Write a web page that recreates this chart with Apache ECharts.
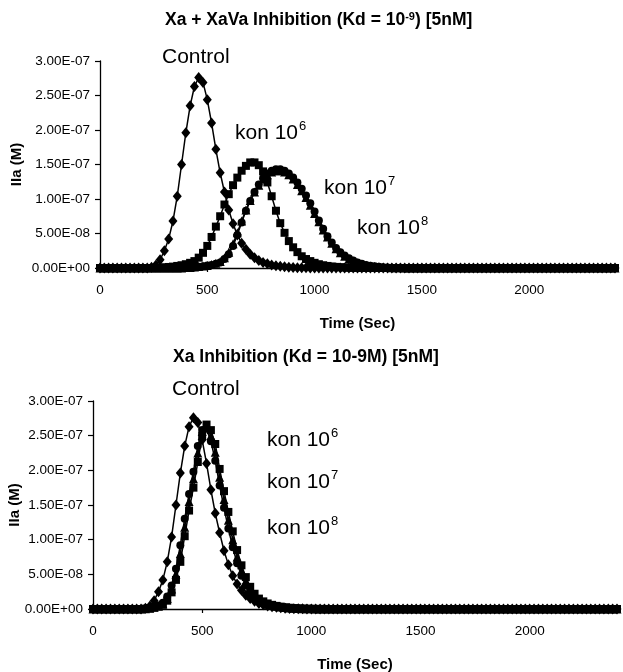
<!DOCTYPE html>
<html>
<head>
<meta charset="utf-8">
<script src="https://cdn.jsdelivr.net/npm/echarts@6/dist/echarts.min.js"></script>
<style>
html,body{margin:0;padding:0;background:#fff;}
#chart{width:623px;height:672px;}
</style>
</head>
<body>
<div id="chart"></div>
<script>
// Sampling times (s)
const times = [
0,20,40,60,80,100,120,140,160,180,
200,220,240,260,280,300,320,340,360,380,
400,420,440,460,480,500,520,540,560,580,
600,620,640,660,680,700,720,740,760,780,
800,820,840,860,880,900,920,940,960,980,
1000,1020,1040,1060,1080,1100,1120,1140,1160,1180,
1200,1220,1240,1260,1280,1300,1320,1340,1360,1380,
1400,1420,1440,1460,1480,1500,1520,1540,1560,1580,
1600,1620,1640,1660,1680,1700,1720,1740,1760,1780,
1800,1820,1840,1860,1880,1900,1920,1940,1960,1980,
2000,2020,2040,2060,2080,2100,2120,2140,2160,2180,
2200,2220,2240,2260,2280,2300,2320,2340,2360,2380,
2400];

// IIa (units of 1e-7 M)
const control = [
0,0,0,0,0,0,0,0,0,0,
0,0,0.01,0.04,0.12,0.25,0.42,0.68,1.04,1.50,
1.96,2.35,2.63,2.76,2.69,2.44,2.10,1.72,1.38,1.10,
0.84,0.64,0.48,0.36,0.27,0.20,0.15,0.11,0.08,0.06,
0.045,0.033,0.024,0.017,0.012,0.008,0.005,0.003,0.002,0.001,
0,0,0,0,0,0,0,0,0,0,
0,0,0,0,0,0,0,0,0,0,
0,0,0,0,0,0,0,0,0,0,
0,0,0,0,0,0,0,0,0,0,
0,0,0,0,0,0,0,0,0,0,
0,0,0,0,0,0,0,0,0,0,
0,0,0,0,0,0,0,0,0,0,
0];

// Top chart: Xa + XaVa inhibition
const topKon6 = [
0,0,0,0,0,0,0,0,0,0,
0,0,0,0,0.005,0.01,0.015,0.02,0.03,0.04,
0.055,0.075,0.10,0.15,0.22,0.32,0.45,0.60,0.75,0.92,
1.07,1.20,1.31,1.41,1.48,1.53,1.53,1.49,1.40,1.24,
1.04,0.83,0.65,0.51,0.39,0.30,0.23,0.17,0.13,0.10,
0.075,0.055,0.04,0.03,0.022,0.016,0.011,0.008,0.005,0.003,
0.002,0.001,0,0,0,0,0,0,0,0,
0,0,0,0,0,0,0,0,0,0,
0,0,0,0,0,0,0,0,0,0,
0,0,0,0,0,0,0,0,0,0,
0,0,0,0,0,0,0,0,0,0,
0,0,0,0,0,0,0,0,0,0,
0];
const topKon7 = [
0,0,0,0,0,0,0,0,0,0,
0,0,0,0,0,0,0,0,0,0,
0.006,0.009,0.014,0.02,0.028,0.038,0.05,0.068,0.095,0.15,
0.23,0.35,0.51,0.68,0.84,0.98,1.10,1.20,1.29,1.35,
1.39,1.41,1.41,1.39,1.35,1.29,1.21,1.12,1.02,0.91,
0.79,0.67,0.55,0.45,0.36,0.28,0.22,0.17,0.13,0.10,
0.075,0.055,0.04,0.03,0.022,0.016,0.011,0.007,0.004,0.003,
0.002,0.001,0,0,0,0,0,0,0,0,
0,0,0,0,0,0,0,0,0,0,
0,0,0,0,0,0,0,0,0,0,
0,0,0,0,0,0,0,0,0,0,
0,0,0,0,0,0,0,0,0,0,
0];
const topKon8 = [
0,0,0,0,0,0,0,0,0,0,
0,0,0,0,0,0,0,0,0,0,
0.005,0.008,0.012,0.018,0.025,0.035,0.045,0.06,0.08,0.13,
0.20,0.32,0.48,0.66,0.83,0.97,1.10,1.21,1.30,1.37,
1.41,1.43,1.43,1.41,1.37,1.31,1.24,1.15,1.05,0.94,
0.82,0.69,0.57,0.46,0.37,0.29,0.23,0.18,0.14,0.11,
0.08,0.06,0.045,0.033,0.024,0.017,0.012,0.008,0.005,0.003,
0.002,0.001,0,0,0,0,0,0,0,0,
0,0,0,0,0,0,0,0,0,0,
0,0,0,0,0,0,0,0,0,0,
0,0,0,0,0,0,0,0,0,0,
0,0,0,0,0,0,0,0,0,0,
0];

// Bottom chart: Xa inhibition
const botKon6 = [
0,0,0,0,0,0,0,0,0,0,
0,0,0.005,0.01,0.02,0.035,0.06,0.12,0.24,0.42,
0.68,1.05,1.42,1.75,2.12,2.50,2.66,2.58,2.38,2.02,
1.70,1.40,1.12,0.85,0.63,0.46,0.32,0.22,0.15,0.11,
0.08,0.06,0.045,0.034,0.025,0.018,0.013,0.009,0.006,0.004,
0.003,0.002,0.001,0.001,0,0,0,0,0,0,
0,0,0,0,0,0,0,0,0,0,
0,0,0,0,0,0,0,0,0,0,
0,0,0,0,0,0,0,0,0,0,
0,0,0,0,0,0,0,0,0,0,
0,0,0,0,0,0,0,0,0,0,
0,0,0,0,0,0,0,0,0,0,
0];
const botKon7 = [
0,0,0,0,0,0,0,0,0,0,
0,0,0.005,0.012,0.024,0.042,0.075,0.15,0.29,0.50,
0.80,1.18,1.55,1.88,2.25,2.56,2.63,2.50,2.26,1.90,
1.58,1.28,1.00,0.75,0.55,0.40,0.28,0.19,0.13,0.095,
0.07,0.052,0.039,0.029,0.021,0.015,0.011,0.008,0.005,0.003,
0.002,0.001,0.001,0,0,0,0,0,0,0,
0,0,0,0,0,0,0,0,0,0,
0,0,0,0,0,0,0,0,0,0,
0,0,0,0,0,0,0,0,0,0,
0,0,0,0,0,0,0,0,0,0,
0,0,0,0,0,0,0,0,0,0,
0,0,0,0,0,0,0,0,0,0,
0];
const botKon8 = [
0,0,0,0,0,0,0,0,0,0,
0,0,0.006,0.014,0.028,0.05,0.09,0.18,0.34,0.58,
0.92,1.30,1.66,1.98,2.35,2.58,2.60,2.42,2.14,1.78,
1.46,1.16,0.89,0.66,0.48,0.34,0.24,0.16,0.11,0.08,
0.06,0.045,0.033,0.024,0.018,0.013,0.009,0.006,0.004,0.003,
0.002,0.001,0.001,0,0,0,0,0,0,0,
0,0,0,0,0,0,0,0,0,0,
0,0,0,0,0,0,0,0,0,0,
0,0,0,0,0,0,0,0,0,0,
0,0,0,0,0,0,0,0,0,0,
0,0,0,0,0,0,0,0,0,0,
0,0,0,0,0,0,0,0,0,0,
0];

const xTicks = [0, 500, 1000, 1500, 2000];

const FONT = "'Liberation Sans', Arial, sans-serif";

function sci(v) {
  if (Math.abs(v) < 1e-20) return '0.00E+00';
  let e = Math.floor(Math.log10(Math.abs(v)) + 1e-9);
  let m = v / Math.pow(10, e);
  if (Math.abs(m) >= 9.995) { m /= 10; e++; }
  return m.toFixed(2) + 'E' + (e < 0 ? '-' : '+') + String(Math.abs(e)).padStart(2, '0');
}

function pairs(vals) { return times.map((t, i) => [t, vals[i]]); }

function xAxisCfg(gi) {
  return {
    gridIndex: gi, type: 'value', min: 0, max: 2400, interval: 500,
    name: 'Time (Sec)', nameLocation: 'middle', nameGap: 48, nameMoveOverlap: false,
    nameTextStyle: { color: '#000', fontFamily: FONT, fontWeight: 'bold', fontSize: 15 },
    axisLine: { show: true, onZero: true, lineStyle: { color: '#000', width: 1.3 } },
    axisTick: { show: true, inside: false, length: 4, lineStyle: { color: '#000', width: 1.2 } },
    axisLabel: { color: '#000', fontFamily: FONT, fontSize: 13.5, margin: 15,
      formatter: v => (xTicks.indexOf(v) >= 0 ? String(v) : '') },
    splitLine: { show: false }
  };
}
function yAxisCfg(gi, gap) {
  return {
    gridIndex: gi, type: 'value', min: 0, max: 3, interval: 0.5,
    name: 'IIa (M)', nameLocation: 'middle', nameGap: gap, nameRotate: 90, nameMoveOverlap: false,
    nameTextStyle: { color: '#000', fontFamily: FONT, fontWeight: 'bold', fontSize: 15 },
    axisLine: { show: true, lineStyle: { color: '#000', width: 1.3 } },
    axisTick: { show: true, inside: false, length: 5, lineStyle: { color: '#000', width: 1.2 } },
    axisLabel: { color: '#000', fontFamily: FONT, fontSize: 13.5, margin: 10,
      formatter: v => sci(v * 1e-7) },
    splitLine: { show: false }
  };
}
function ser(name, vals, gi, symbol, size) {
  return {
    name, type: 'line', xAxisIndex: gi, yAxisIndex: gi,
    data: pairs(vals), symbol, symbolSize: size, showAllSymbol: true,
    lineStyle: { color: '#000', width: 1.5 }, itemStyle: { color: '#000' },
    clip: false, animation: false, silent: true
  };
}

const supRich = {
  sup: { fontSize: 13, fontFamily: FONT, color: '#000', verticalAlign: 'top', lineHeight: 13, padding: [0, 0, 0, 1] },
  b: { fontSize: 21, fontFamily: FONT, color: '#000', lineHeight: 24, verticalAlign: 'bottom' }
};
function label(x, y, txt, sup) {
  return {
    type: 'text', left: x, top: y,
    style: { text: sup ? '{b|' + txt + '}{sup|' + sup + '}' : '{b|' + txt + '}', rich: supRich, fill: '#000' }
  };
}

const chart = echarts.init(document.getElementById('chart'), null, { renderer: 'canvas' });
chart.setOption({
  animation: false,
  backgroundColor: '#fff',
  title: [
    { text: 'Xa + XaVa Inhibition (Kd = 10{s|-9}) [5nM]', left: 160, top: 6,
      textStyle: { fontFamily: FONT, fontWeight: 'bold', fontSize: 17.5, color: '#000',
        rich: { s: { fontFamily: FONT, fontWeight: 'bold', fontSize: 11, color: '#000', verticalAlign: 'top', lineHeight: 11 } } } },
    { text: 'Xa Inhibition (Kd = 10-9M) [5nM]', left: 168, top: 343,
      textStyle: { fontFamily: FONT, fontWeight: 'bold', fontSize: 17.5, color: '#000' } }
  ],
  grid: [
    { left: 100, right: 8, top: 61, height: 207, containLabel: false, outerBoundsMode: 'none' },
    { left: 93, right: 6, top: 401, height: 208, containLabel: false, outerBoundsMode: 'none' }
  ],
  xAxis: [xAxisCfg(0), xAxisCfg(1)],
  yAxis: [yAxisCfg(0, 76), yAxisCfg(1, 71)],
  series: [
    ser('Control', control, 0, 'diamond', [9, 11]),
    ser('kon 10^6', topKon6, 0, 'rect', 8),
    ser('kon 10^7', topKon7, 0, 'triangle', 9),
    ser('kon 10^8', topKon8, 0, 'circle', 8),
    ser('Control', control, 1, 'diamond', [9, 11]),
    ser('kon 10^6', botKon6, 1, 'rect', 8),
    ser('kon 10^7', botKon7, 1, 'triangle', 9),
    ser('kon 10^8', botKon8, 1, 'circle', 8)
  ],
  graphic: [
    label(162, 47, 'Control'),
    label(235, 120, 'kon 10', '6'),
    label(324, 175, 'kon 10', '7'),
    label(357, 215, 'kon 10', '8'),
    label(172, 379, 'Control'),
    label(267, 427, 'kon 10', '6'),
    label(267, 469, 'kon 10', '7'),
    label(267, 515, 'kon 10', '8')
  ]
});
</script>
</body>
</html>
